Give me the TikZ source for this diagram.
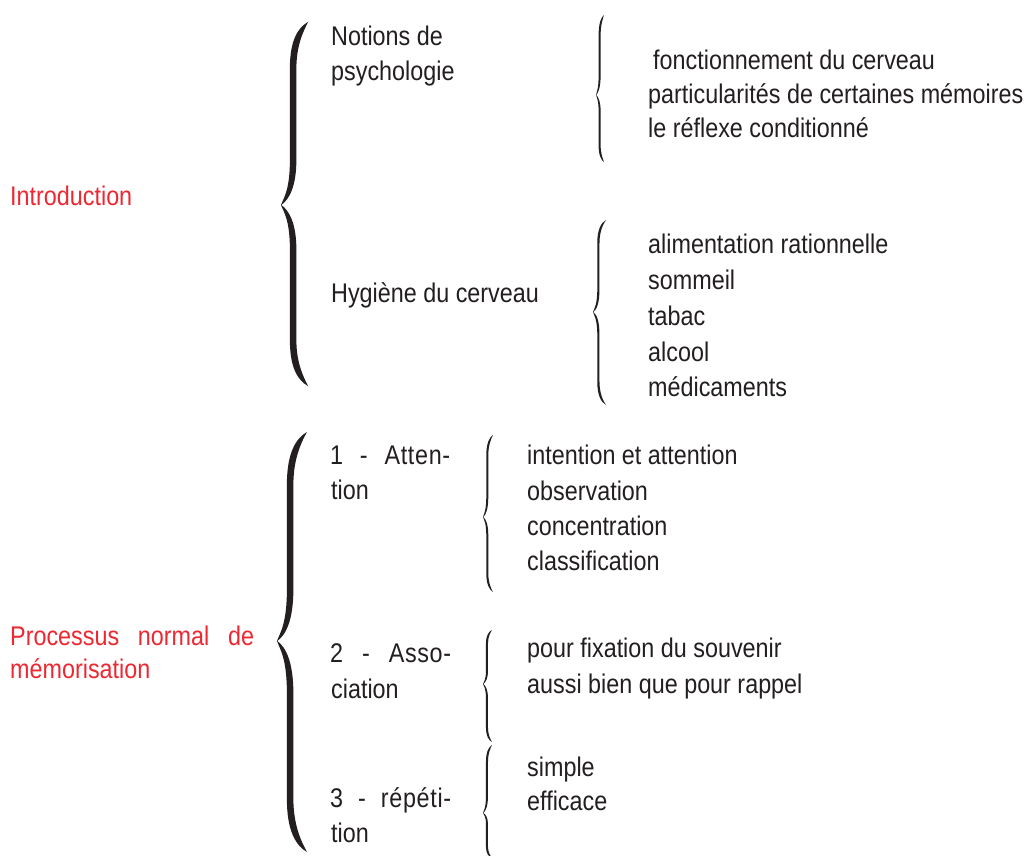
\documentclass[tikz,border=0pt]{standalone}
\usepackage{fontspec}
\setmainfont[FakeStretch=0.865]{Liberation Sans}
\definecolor{myred}{RGB}{236,40,50}
\definecolor{myink}{RGB}{35,31,32}
\newcommand\mybrace[6]{%
 \pgfmathsetmacro\bxe{#1}\pgfmathsetmacro\bxt{#2}%
 \pgfmathsetmacro\bya{#3}\pgfmathsetmacro\bym{#4}\pgfmathsetmacro\byb{#5}%
 \pgfmathsetmacro\bth{#6}%
 \pgfmathsetmacro\bw{\bxe-\bxt}%
 \pgfmathsetmacro\bxm{\bxt+0.33*\bw}%
 \pgfmathsetmacro\bxn{\bxm+\bth}%
 \pgfmathsetmacro\bha{\bym-\bya}\pgfmathsetmacro\bhb{\byb-\bym}%
 \fill[myink] (\bxe,\bya)
   .. controls (\bxm+0.3*\bw,\bya+0.03*\bha) and (\bxm,\bya+0.1*\bha) .. (\bxm,\bya+0.25*\bha)
   -- (\bxm,\bym-0.25*\bha)
   .. controls (\bxm,\bym-0.08*\bha) and (\bxt+0.1*\bw,\bym-0.04*\bha) .. (\bxt,\bym)
   .. controls (\bxt+0.1*\bw,\bym+0.04*\bhb) and (\bxm,\bym+0.08*\bhb) .. (\bxm,\bym+0.25*\bhb)
   -- (\bxm,\byb-0.25*\bhb)
   .. controls (\bxm,\byb-0.1*\bhb) and (\bxm+0.3*\bw,\byb-0.03*\bhb) .. (\bxe,\byb)
   .. controls (\bxn+0.3*\bw,\byb-0.04*\bhb) and (\bxn,\byb-0.12*\bhb) .. (\bxn,\byb-0.25*\bhb)
   -- (\bxn,\bym+0.25*\bhb)
   .. controls (\bxn,\bym+0.1*\bhb) and (\bxt+0.3*\bw,\bym+0.03*\bhb) .. (\bxt+0.3,\bym)
   .. controls (\bxt+0.3*\bw,\bym-0.03*\bha) and (\bxn,\bym-0.1*\bha) .. (\bxn,\bym-0.25*\bha)
   -- (\bxn,\bya+0.25*\bha)
   .. controls (\bxn,\bya+0.12*\bha) and (\bxn+0.3*\bw,\bya+0.04*\bha) .. (\bxe,\bya) -- cycle;}
\newcommand\spreadline[2]{\makebox[#1][s]{\addfontfeature{LetterSpace=2.5}#2}}
\begin{document}
\begin{tikzpicture}[x=1pt,y=-1pt,
  txt/.style={anchor=base west,inner sep=0pt,font=\fontsize{27}{32}\selectfont,text=myink},
  redtxt/.style={txt,text=myred}]
\useasboundingbox[fill=white] (0,0) rectangle (1028,856);
% braces
\mybrace{308}{281}{22}{205}{386}{6.5}
\mybrace{604}{596}{15}{95}{162}{2}
\mybrace{606}{593}{220}{312}{405}{2.2}
\mybrace{307}{277}{432}{641}{852}{6.5}
\mybrace{493}{483}{435}{517}{592}{2}
\mybrace{492}{483}{630}{684}{742}{2}
\mybrace{492}{483}{745}{813}{858}{2}
% left column
\node[redtxt] (intro) at (10,205) {Introduction};
\node[redtxt] (proc1) at (10,645) {\makebox[244pt][s]{Processus normal de}};
\node[redtxt] (proc2) at (10,678) {mémorisation};
% middle column
\node[txt] (not1) at (331,46) {Notions de};
\node[txt] (not2) at (331,81) {psychologie};
\node[txt] (hyg) at (331,302) {Hygiène du cerveau};
\node[txt] (att1) at (330,464) {\spreadline{120pt}{1 - Atten-}};
\node[txt] (att2) at (331,499) {tion};
\node[txt] (ass1) at (330,662) {\spreadline{121pt}{2 - Asso-}};
\node[txt] (ass2) at (331,698) {ciation};
\node[txt] (rep1) at (330,807) {\spreadline{121pt}{3 - répéti-}};
\node[txt] (rep2) at (331,842) {tion};
% right column
\node[txt] (r11) at (653,70) {fonctionnement du cerveau};
\node[txt] (r12) at (648,104) {particularités de certaines mémoires};
\node[txt] (r13) at (648,138) {le réflexe conditionné};
\node[txt] (r21) at (648,253) {alimentation rationnelle};
\node[txt] (r22) at (648,289) {sommeil};
\node[txt] (r23) at (648,325) {tabac};
\node[txt] (r24) at (648,361) {alcool};
\node[txt] (r25) at (648,396) {médicaments};
\node[txt] (a1) at (527,464) {intention et attention};
\node[txt] (a2) at (527,500) {observation};
\node[txt] (a3) at (527,535) {concentration};
\node[txt] (a4) at (527,570) {classification};
\node[txt] (b1) at (527,657) {pour fixation du souvenir};
\node[txt] (b2) at (527,693) {aussi bien que pour rappel};
\node[txt] (c1) at (527,776) {simple};
\node[txt] (c2) at (527,810) {efficace};
\end{tikzpicture}
\end{document}
